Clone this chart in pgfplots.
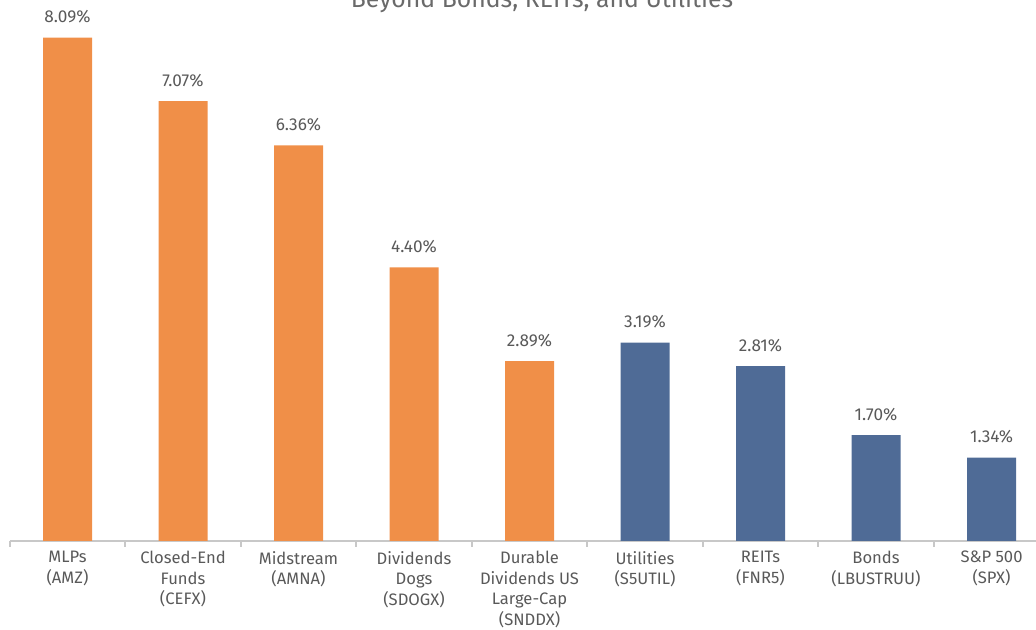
\documentclass[border=0pt]{standalone}
\usepackage{pgfplots}
\pgfplotsset{compat=1.18}
\usepackage{fontspec}
\setmainfont{Fira Sans}

\definecolor{barorange}{HTML}{F08F48}
\definecolor{barblue}{HTML}{4F6B96}
\definecolor{txtgray}{HTML}{595959}
\definecolor{axgray}{HTML}{C8C8C8}

\begin{document}
\begin{tikzpicture}
  \begin{axis}[
    at={(4.875pt,44.5pt)},
    anchor=south west,
    scale only axis,
    width=519.75pt,
    height=264.4pt,
    ybar,
    bar width=24.5pt,
    xmin=-0.5, xmax=8.5,
    ymin=0, ymax=8.5,
    axis x line=bottom,
    axis y line=none,
    axis line style={-, draw=axgray, line width=0.8pt},
    xtick={0,1,2,3,4,5,6,7,8},
    xticklabels={
      {MLPs\\(AMZ)},
      {Closed-End\\Funds\\(CEFX)},
      {Midstream\\(AMNA)},
      {Dividends\\Dogs\\(SDOGX)},
      {Durable\\Dividends US\\Large-Cap\\(SNDDX)},
      {Utilities\\(S5UTIL)},
      {REITs\\(FNR5)},
      {Bonds\\(LBUSTRUU)},
      {S\&P 500\\(SPX)}
    },
    major tick length=0pt,
    extra x ticks={-0.5,0.5,1.5,2.5,3.5,4.5,5.5,6.5,7.5,8.5},
    extra x tick labels={},
    extra x tick style={major tick length=3pt, tick style={draw=axgray, line width=0.8pt}, tick align=outside},
    xticklabel style={font=\fontsize{8.3}{10.3}\selectfont, text=txtgray, align=center, yshift=-1.5pt},
    /pgf/number format/assume math mode=true,
    nodes near coords={\pgfmathprintnumber[fixed,fixed zerofill,precision=2]{\pgfplotspointmeta}\%},
    nodes near coords style={font=\fontsize{8.6}{10}\selectfont, text=txtgray, anchor=base, yshift=7.5pt},
    clip=false
  ]
  \addplot[bar shift=0pt, fill=barorange, draw=none] coordinates {
    (0, 8.09) (1, 7.07) (2, 6.36) (3, 4.40) (4, 2.89)
  };
  \addplot[bar shift=0pt, fill=barblue, draw=none] coordinates {
    (5, 3.19) (6, 2.81) (7, 1.70) (8, 1.34)
  };
  \end{axis}
  \pgfresetboundingbox
  \path[use as bounding box] (0,0) rectangle (518pt,315pt);
  \node[anchor=base, inner sep=0pt, text=txtgray!90, font=\fontsize{12.4}{14}\selectfont] at (271pt,311pt) {Beyond Bonds, REITs, and Utilities};
\end{tikzpicture}
\end{document}
